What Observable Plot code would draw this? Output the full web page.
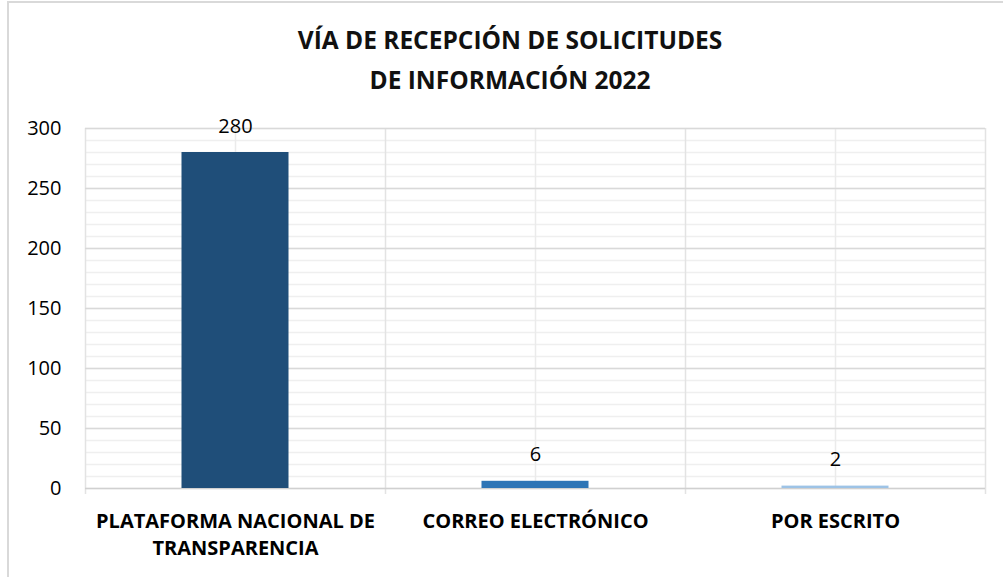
<!DOCTYPE html>
<html>
<head>
<meta charset="utf-8">
<script src="https://cdn.jsdelivr.net/npm/d3@7"></script>
<script src="https://cdn.jsdelivr.net/npm/@observablehq/plot@0.6"></script>
<style>
  html, body { margin: 0; padding: 0; background: #fff; }
  #wrap { position: relative; width: 1003px; height: 577px; overflow: hidden; font-family: "Open Sans", sans-serif; }
  #border { position: absolute; left: 7px; top: 1px; width: 1100px; height: 700px; border-left: 2px solid #d9d9d9; border-top: 2px solid #d9d9d9; }
  #title { position: absolute; left: 10px; width: 1000px; top: 20px; text-align: center; font-size: 24.5px; font-weight: 700; line-height: 40px; color: #111; }
  #chart { position: absolute; left: 0; top: 0; }
</style>
</head>
<body>
<div id="wrap">
  <div id="border"></div>
  <div id="chart"></div>
  <div id="title">VÍA DE RECEPCIÓN DE SOLICITUDES<br>DE INFORMACIÓN 2022</div>
</div>
<script>
const categories = ["PLATAFORMA NACIONAL DE TRANSPARENCIA", "CORREO ELECTRÓNICO", "POR ESCRITO"];
const categoryLabels = ["PLATAFORMA NACIONAL DE\nTRANSPARENCIA", "CORREO ELECTRÓNICO", "POR ESCRITO"];
const values = [280, 6, 2];
const barColors = ["#1F4E79", "#2E75B6", "#9DC3E6"];
const yTicks = [0, 50, 100, 150, 200, 250, 300];
const yMinorTicks = d3.range(0, 301, 10);

const data = categories.map((c, i) => ({cat: c, label: categoryLabels[i], value: values[i], color: barColors[i]}));

const W = 1003, H = 577, mL = 85, mR = 18, mT = 128, mB = 89;
const bw = (W - mL - mR) / categories.length;
const barW = 107;
const inset = (bw - barW) / 2;
const font = "Open Sans";

const chart = Plot.plot({
  width: W,
  height: H,
  marginLeft: mL,
  marginRight: mR,
  marginTop: mT,
  marginBottom: mB,
  style: {fontFamily: font, background: "transparent", color: "#000"},
  x: {type: "band", domain: categories, padding: 0, axis: null},
  y: {domain: [0, 300], axis: null},
  marks: [
    Plot.ruleY(yMinorTicks, {stroke: "#efefef", strokeWidth: 1.5}),
    Plot.ruleX(categories, {x: d => d, y1: 0, y2: 300, stroke: "#ebebeb", strokeWidth: 1.5}),
    Plot.ruleX(categories, {x: d => d, y1: -5, y2: 300, dx: -bw / 2, stroke: "#e3e3e3", strokeWidth: 1.5}),
    Plot.ruleX([categories[categories.length - 1]], {x: d => d, y1: -5, y2: 300, dx: bw / 2, stroke: "#e3e3e3", strokeWidth: 1.5}),
    Plot.ruleY(yTicks.filter(d => d > 0), {stroke: "#d9d9d9", strokeWidth: 1.5}),
    Plot.ruleY([0], {stroke: "#d0d0d0", strokeWidth: 1.5}),
    Plot.barY(data, {x: "cat", y: "value", fill: "color", insetLeft: inset, insetRight: inset}),
    Plot.text(data, {x: "cat", y: "value", text: d => String(d.value), lineAnchor: "bottom", dy: -20, fontSize: 20, fill: "#000"}),
    Plot.text(data, {x: "cat", frameAnchor: "bottom", text: "label", lineAnchor: "top", dy: 20, lineHeight: 1.35, fontSize: 20, fontWeight: 700, fill: "#000"}),
    Plot.axisY(yTicks, {tickSize: 0, tickPadding: 24, fontSize: 20, fill: "#000", label: null})
  ]
});

document.getElementById("chart").appendChild(chart);
</script>
</body>
</html>
